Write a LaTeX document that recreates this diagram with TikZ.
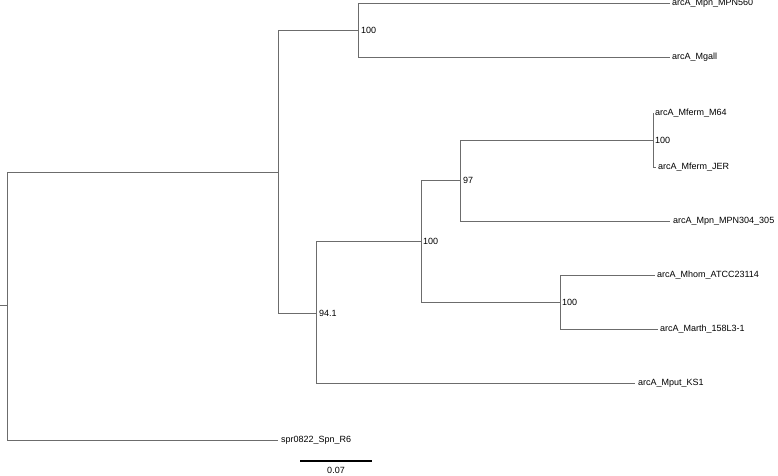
\documentclass[tikz,border=0pt]{standalone}
\usepackage{fontspec}
\setmainfont{Liberation Sans}
\begin{document}
\begin{tikzpicture}[x=1pt,y=-1pt,
  br/.style={draw=gray!85!black,line width=0.6pt},
  leaf/.style={anchor=west,inner sep=0pt,font=\fontsize{9}{10}\selectfont},
  sup/.style={anchor=west,inner sep=0pt,font=\fontsize{9}{10}\selectfont}]
\useasboundingbox (0,0) rectangle (778,475);
% internal nodes
\coordinate (r0) at (0,305);
\coordinate (root) at (7,305);
\coordinate (nU) at (278,172);
\coordinate (nA) at (358,30);
\coordinate (nB) at (316,313);
\coordinate (nC) at (421,241);
\coordinate (nD) at (460,180);
\coordinate (nE) at (653,140);
\coordinate (nF) at (560,302);
% leaf ends
\coordinate (lA1) at (670,3);
\coordinate (lA2) at (670,57);
\coordinate (lE1) at (654,113);
\coordinate (lE2) at (656,167);
\coordinate (lD2) at (670,221);
\coordinate (lF1) at (655,275);
\coordinate (lF2) at (658,329);
\coordinate (lB2) at (635,383);
\coordinate (lR2) at (278,440);
% leaf labels
\node[leaf] (tA1) at ([xshift=2pt]lA1) {arcA\_Mpn\_MPN560};
\node[leaf] (tA2) at ([xshift=2pt]lA2) {arcA\_Mgall};
\node[leaf] (tE1) at ([xshift=1pt]lE1) {arcA\_Mferm\_M64};
\node[leaf] (tE2) at ([xshift=2pt]lE2) {arcA\_Mferm\_JER};
\node[leaf] (tD2) at ([xshift=3pt]lD2) {arcA\_Mpn\_MPN304\_305};
\node[leaf] (tF1) at ([xshift=2pt]lF1) {arcA\_Mhom\_ATCC23114};
\node[leaf] (tF2) at ([xshift=2pt]lF2) {arcA\_Marth\_158L3-1};
\node[leaf] (tB2) at ([xshift=3pt]lB2) {arcA\_Mput\_KS1};
\node[leaf] (tR2) at ([xshift=3pt]lR2) {spr0822\_Spn\_R6};
% support values
\node[sup] (sA) at ([xshift=3pt]nA) {100};
\node[sup] (sB) at ([xshift=3pt]nB) {94.1};
\node[sup] (sC) at ([xshift=2pt]nC) {100};
\node[sup] (sD) at ([xshift=3pt]nD) {97};
\node[sup] (sE) at ([xshift=2pt]nE) {100};
\node[sup] (sF) at ([xshift=2pt]nF) {100};
% branches
\draw[br] (r0) -- (root);
\draw[br] (root) |- (nU);
\draw[br] (root) |- (lR2);
\draw[br] (nU) |- (nA);
\draw[br] (nU) |- (nB);
\draw[br] (nA) |- (lA1);
\draw[br] (nA) |- (lA2);
\draw[br] (nB) |- (nC);
\draw[br] (nB) |- (lB2);
\draw[br] (nC) |- (nD);
\draw[br] (nC) |- (nF);
\draw[br] (nD) |- (nE);
\draw[br] (nD) |- (lD2);
\draw[br] (nE) |- (lE1);
\draw[br] (nE) |- (lE2);
\draw[br] (nF) |- (lF1);
\draw[br] (nF) |- (lF2);
% scale bar
\coordinate (s1) at (300,461);
\coordinate (s2) at (372,461);
\draw[black,line width=1.4pt] (s1) -- (s2);
\node[font=\fontsize{9}{10}\selectfont,inner sep=0pt] (sl) at (336,470) {0.07};
\end{tikzpicture}
\end{document}
